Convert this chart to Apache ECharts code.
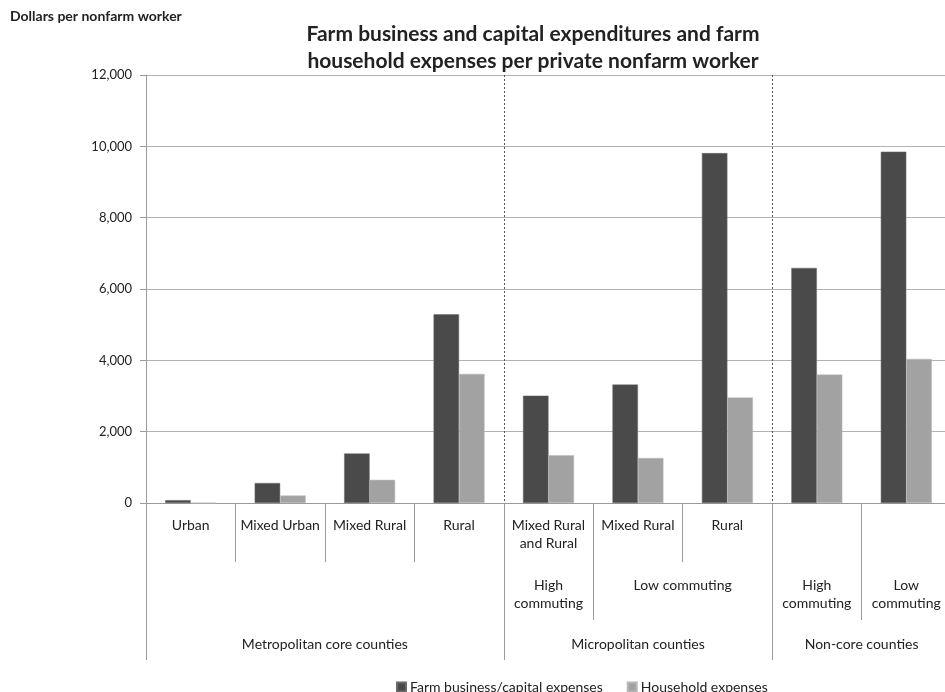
<!DOCTYPE html>
<html>
<head>
<meta charset="utf-8">
<script src="https://cdn.jsdelivr.net/npm/echarts@6/dist/echarts.min.js"></script>
<style>
  html, body { margin: 0; padding: 0; background: #fff; }
  #main { width: 945px; height: 692px; }
</style>
</head>
<body>
<div id="main"></div>
<script>
// bar categories (first label row)
var categories = ['Urban', 'Mixed Urban', 'Mixed Rural', 'Rural', 'Mixed Rural\nand Rural', 'Mixed Rural', 'Rural', '', ''];
var farmBusiness = [80, 560, 1390, 5290, 3010, 3320, 9810, 6590, 9850];
var household = [0, 210, 650, 3620, 1340, 1260, 2960, 3600, 4040];
var yMax = 12000;
var yStep = 2000;

// second and third label rows sit on half-category steps (0, 0.5, 1 ... 9)
var commutingRow = ['', '', '', '', '', '', '', '', '', 'High\ncommuting', '', '', 'Low commuting', '', '', 'High\ncommuting', '', 'Low\ncommuting', ''];
var commutingBreaks = [8, 10, 14, 16];
var regionRow = ['', '', '', '', 'Metropolitan core counties', '', '', '', '', '', '', 'Micropolitan counties', '', '', '', '', 'Non-core counties', '', ''];
var regionBreaks = [0, 8, 14];
var regionDividers = [8, 14];

var font = 'Lato, "Liberation Sans", sans-serif';
var textColor = '#222';
var lineColor = '#9a9a9a';

var chartDom = document.getElementById('main');
var myChart = echarts.init(chartDom);

var option = {
  animation: false,
  textStyle: { fontFamily: font },
  title: [
    {
      text: 'Farm business and capital expenditures and farm\nhousehold expenses per private nonfarm worker',
      left: 528,
      top: 16,
      textAlign: 'center',
      textStyle: { fontSize: 21, fontWeight: 'bold', lineHeight: 27, color: textColor, fontFamily: font }
    },
    {
      text: 'Dollars per nonfarm worker',
      left: 5,
      top: 4,
      textStyle: { fontSize: 14, fontWeight: 'bold', color: textColor, fontFamily: font }
    }
  ],
  legend: {
    left: 391,
    top: 675,
    itemWidth: 9,
    itemHeight: 9,
    itemGap: 24,
    icon: 'rect',
    textStyle: { fontSize: 14, color: textColor, fontFamily: font, padding: [0, 0, 0, -1] },
    data: ['Farm business/capital expenses', 'Household expenses']
  },
  grid: { left: 146, top: 75, width: 805, height: 428, outerBoundsMode: 'none' },
  xAxis: [
    {
      type: 'category',
      data: categories,
      axisLine: { lineStyle: { color: lineColor } },
      axisTick: { show: true, interval: 0, length: 59, lineStyle: { color: lineColor } },
      axisLabel: { interval: 0, margin: 13, fontSize: 14, lineHeight: 18, color: textColor }
    },
    {
      type: 'category',
      data: commutingRow,
      boundaryGap: false,
      position: 'bottom',
      offset: 59,
      axisLine: { show: false },
      axisTick: {
        show: true,
        length: 58,
        lineStyle: { color: lineColor },
        interval: function (i) { return commutingBreaks.indexOf(i) >= 0; }
      },
      axisLabel: { interval: 0, margin: 14, fontSize: 14, lineHeight: 18, color: textColor }
    },
    {
      type: 'category',
      data: regionRow,
      boundaryGap: false,
      position: 'bottom',
      offset: 0,
      axisLine: { show: false },
      axisTick: {
        show: true,
        length: 157,
        lineStyle: { color: lineColor },
        interval: function (i) { return regionBreaks.indexOf(i) >= 0; }
      },
      axisLabel: { interval: 0, margin: 132, fontSize: 14, lineHeight: 18, color: textColor },
      splitLine: {
        show: true,
        interval: function (i) { return regionDividers.indexOf(i) >= 0; },
        lineStyle: { color: '#555', type: [2, 2], width: 1 }
      }
    }
  ],
  yAxis: {
    type: 'value',
    min: 0,
    max: yMax,
    interval: yStep,
    axisLine: { show: true, lineStyle: { color: lineColor } },
    axisTick: { show: true, length: 6, lineStyle: { color: lineColor } },
    axisLabel: {
      margin: 14,
      fontSize: 13,
      color: textColor,
      formatter: function (v) { return v.toLocaleString('en-US'); }
    },
    splitLine: { lineStyle: { color: '#b3b3b3' } }
  },
  series: [
    {
      name: 'Farm business/capital expenses',
      type: 'bar',
      data: farmBusiness,
      barGap: '0%',
      barCategoryGap: '43%',
      itemStyle: { color: '#4a4a4a', borderColor: '#6a6a6a', borderWidth: 0.5 }
    },
    {
      name: 'Household expenses',
      type: 'bar',
      data: household,
      itemStyle: { color: '#a2a2a2', borderColor: '#b8b8b8', borderWidth: 0.5 }
    }
  ]
};

myChart.setOption(option);
</script>
</body>
</html>
